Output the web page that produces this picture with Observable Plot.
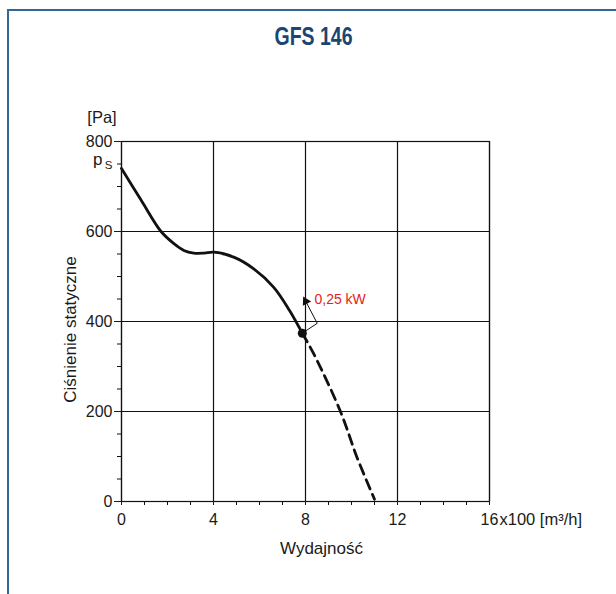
<!DOCTYPE html>
<html><head><meta charset="utf-8">
<script src="https://cdn.jsdelivr.net/npm/d3@7"></script>
<script src="https://cdn.jsdelivr.net/npm/@observablehq/plot@0.6"></script>
<style>
body{margin:0;background:#fff;}
#wrap{position:relative;width:616px;height:594px;overflow:hidden;background:#fff;}
#border{position:absolute;left:7px;top:9px;width:700px;height:700px;border-left:2px solid #336895;border-top:2px solid #336895;z-index:2;}
#wrap svg{position:absolute;left:0;top:0;}
</style></head><body><div id="wrap"><div id="border"></div></div>
<script>
const title = "GFS 146";
const xTicks = [0, 4, 8, 12, 16];
const xTickLabels = ["0", "4", "8", "12", "16"];
const xMinor = [0, 1, 2, 3, 4, 5, 6, 7, 8, 9, 10, 11, 12, 13, 14, 15, 16];
const xUnit = "x100 [m³/h]";
const xTitle = "Wydajność";
const yTicks = [0, 200, 400, 600, 800];
const yMinor = [0, 50, 100, 150, 200, 250, 300, 350, 400, 450, 500, 550, 600, 650, 700, 750, 800];
const yUnit = "[Pa]";
const yTitle = "Ciśnienie statyczne";

const flowSolid = [0, 0.85, 1.72, 2.28, 2.71, 3.14, 3.6, 4.01, 4.88, 5.75, 6.62, 7.3, 7.86];
const pressSolid = [740, 670, 600, 573, 558, 552, 552, 554, 543, 517, 476, 425, 374];
const flowDash = [7.86, 8.36, 9.52, 10.24, 11.0];
const pressDash = [374, 328, 200, 98, 5];
const opFlow = [7.86];
const opPress = [374];
const powerLabel = "0,25 kW";
const leaderFlow = [7.86, 8.51, 8.01];
const leaderPress = [374, 396, 445];
const arrowFlow = [8.01];
const arrowPress = [445];
const labelFlow = [8.39];
const labelPress = [449];

const solid = flowSolid.map((f, i) => ({f, p: pressSolid[i]}));
const dashed = flowDash.map((f, i) => ({f, p: pressDash[i]}));
const leader = leaderFlow.map((f, i) => ({f, p: leaderPress[i]}));
const font = "'Liberation Sans', Arial, Helvetica, sans-serif";
const ink = "#1a1a1a";

const chart = Plot.plot({
  width: 616, height: 594,
  marginLeft: 121, marginRight: 127, marginTop: 141, marginBottom: 93,
  style: {fontFamily: font, fontSize: "16px", color: ink, background: "transparent"},
  x: {domain: [0, 16]},
  y: {domain: [0, 800]},
  marks: [
    Plot.gridX(xTicks, {stroke: "#111", strokeOpacity: 1, strokeWidth: 1.2}),
    Plot.gridY(yTicks, {stroke: "#111", strokeOpacity: 1, strokeWidth: 1.2}),
    Plot.frame({stroke: "#111", strokeWidth: 1.2}),
    Plot.axisX(xMinor, {tickSize: 4, tickFormat: () => "", label: null, stroke: "#111"}),
    Plot.axisX(xTicks, {tickSize: 4, tickPadding: 8, tickFormat: d => xTickLabels[xTicks.indexOf(d)], label: null, fontSize: 16, fill: ink}),
    Plot.axisY(yMinor, {tickSize: 4, tickFormat: () => "", label: null, stroke: "#111"}),
    Plot.axisY(yTicks, {tickSize: 7, tickPadding: 2, tickFormat: d => String(d), label: null, fontSize: 16, fill: ink}),
    Plot.text([xUnit], {x: () => 16, frameAnchor: "bottom", lineAnchor: "middle", dx: 10, dy: 18, textAnchor: "start", fontSize: 16.5, fill: ink}),
    Plot.text([xTitle], {frameAnchor: "bottom", lineAnchor: "middle", textAnchor: "middle", dx: 16, dy: 47, fontSize: 17, fill: ink}),
    Plot.text([yUnit], {frameAnchor: "top-left", lineAnchor: "middle", dx: -19.5, dy: -24, textAnchor: "middle", fontSize: 16.5, fill: ink}),
    Plot.text(["p"], {x: () => 0, y: () => 750, lineAnchor: "middle", dx: -19, dy: -4, textAnchor: "end", fontSize: 17, fill: ink}),
    Plot.text(["S"], {x: () => 0, y: () => 750, lineAnchor: "middle", dx: -9, dy: 1, textAnchor: "end", fontSize: 11.5, fill: ink}),
    Plot.text([yTitle], {frameAnchor: "left", lineAnchor: "middle", textAnchor: "middle", dx: -51, dy: 8, rotate: -90, fontSize: 17, fill: ink}),
    Plot.text([title], {frameAnchor: "top", lineAnchor: "middle", textAnchor: "middle", dx: 8, dy: -105, fontSize: 25, fontWeight: "bold", fill: "#1c4573", fontFamily: "'Liberation Sans Narrow', 'Liberation Sans', Arial, sans-serif"}),
    Plot.line(solid, {x: "f", y: "p", curve: "catmull-rom", stroke: "#111", strokeWidth: 2.8}),
    Plot.line(dashed, {x: "f", y: "p", curve: "catmull-rom", stroke: "#111", strokeWidth: 2.8, strokeDasharray: "10,6"}),
    Plot.line(leader, {x: "f", y: "p", stroke: "#111", strokeWidth: 1}),
    Plot.dot(arrowFlow.map((f, i) => ({f, p: arrowPress[i]})), {x: "f", y: "p", symbol: "triangle", r: 3.5, rotate: -28, fill: "#111", stroke: "none"}),
    Plot.dot(opFlow.map((f, i) => ({f, p: opPress[i]})), {x: "f", y: "p", r: 4.5, fill: "#111", stroke: "none"}),
    Plot.text(labelFlow.map((f, i) => ({f, p: labelPress[i]})), {x: "f", y: "p", text: () => powerLabel, textAnchor: "start", fontSize: 14, fill: "#e2231a"})
  ]
});
d3.select(chart).selectAll("text").filter(function() { return this.textContent === title; })
  .attr("textLength", 78).attr("lengthAdjust", "spacingAndGlyphs");
document.getElementById("wrap").appendChild(chart);
</script>
</body></html>
